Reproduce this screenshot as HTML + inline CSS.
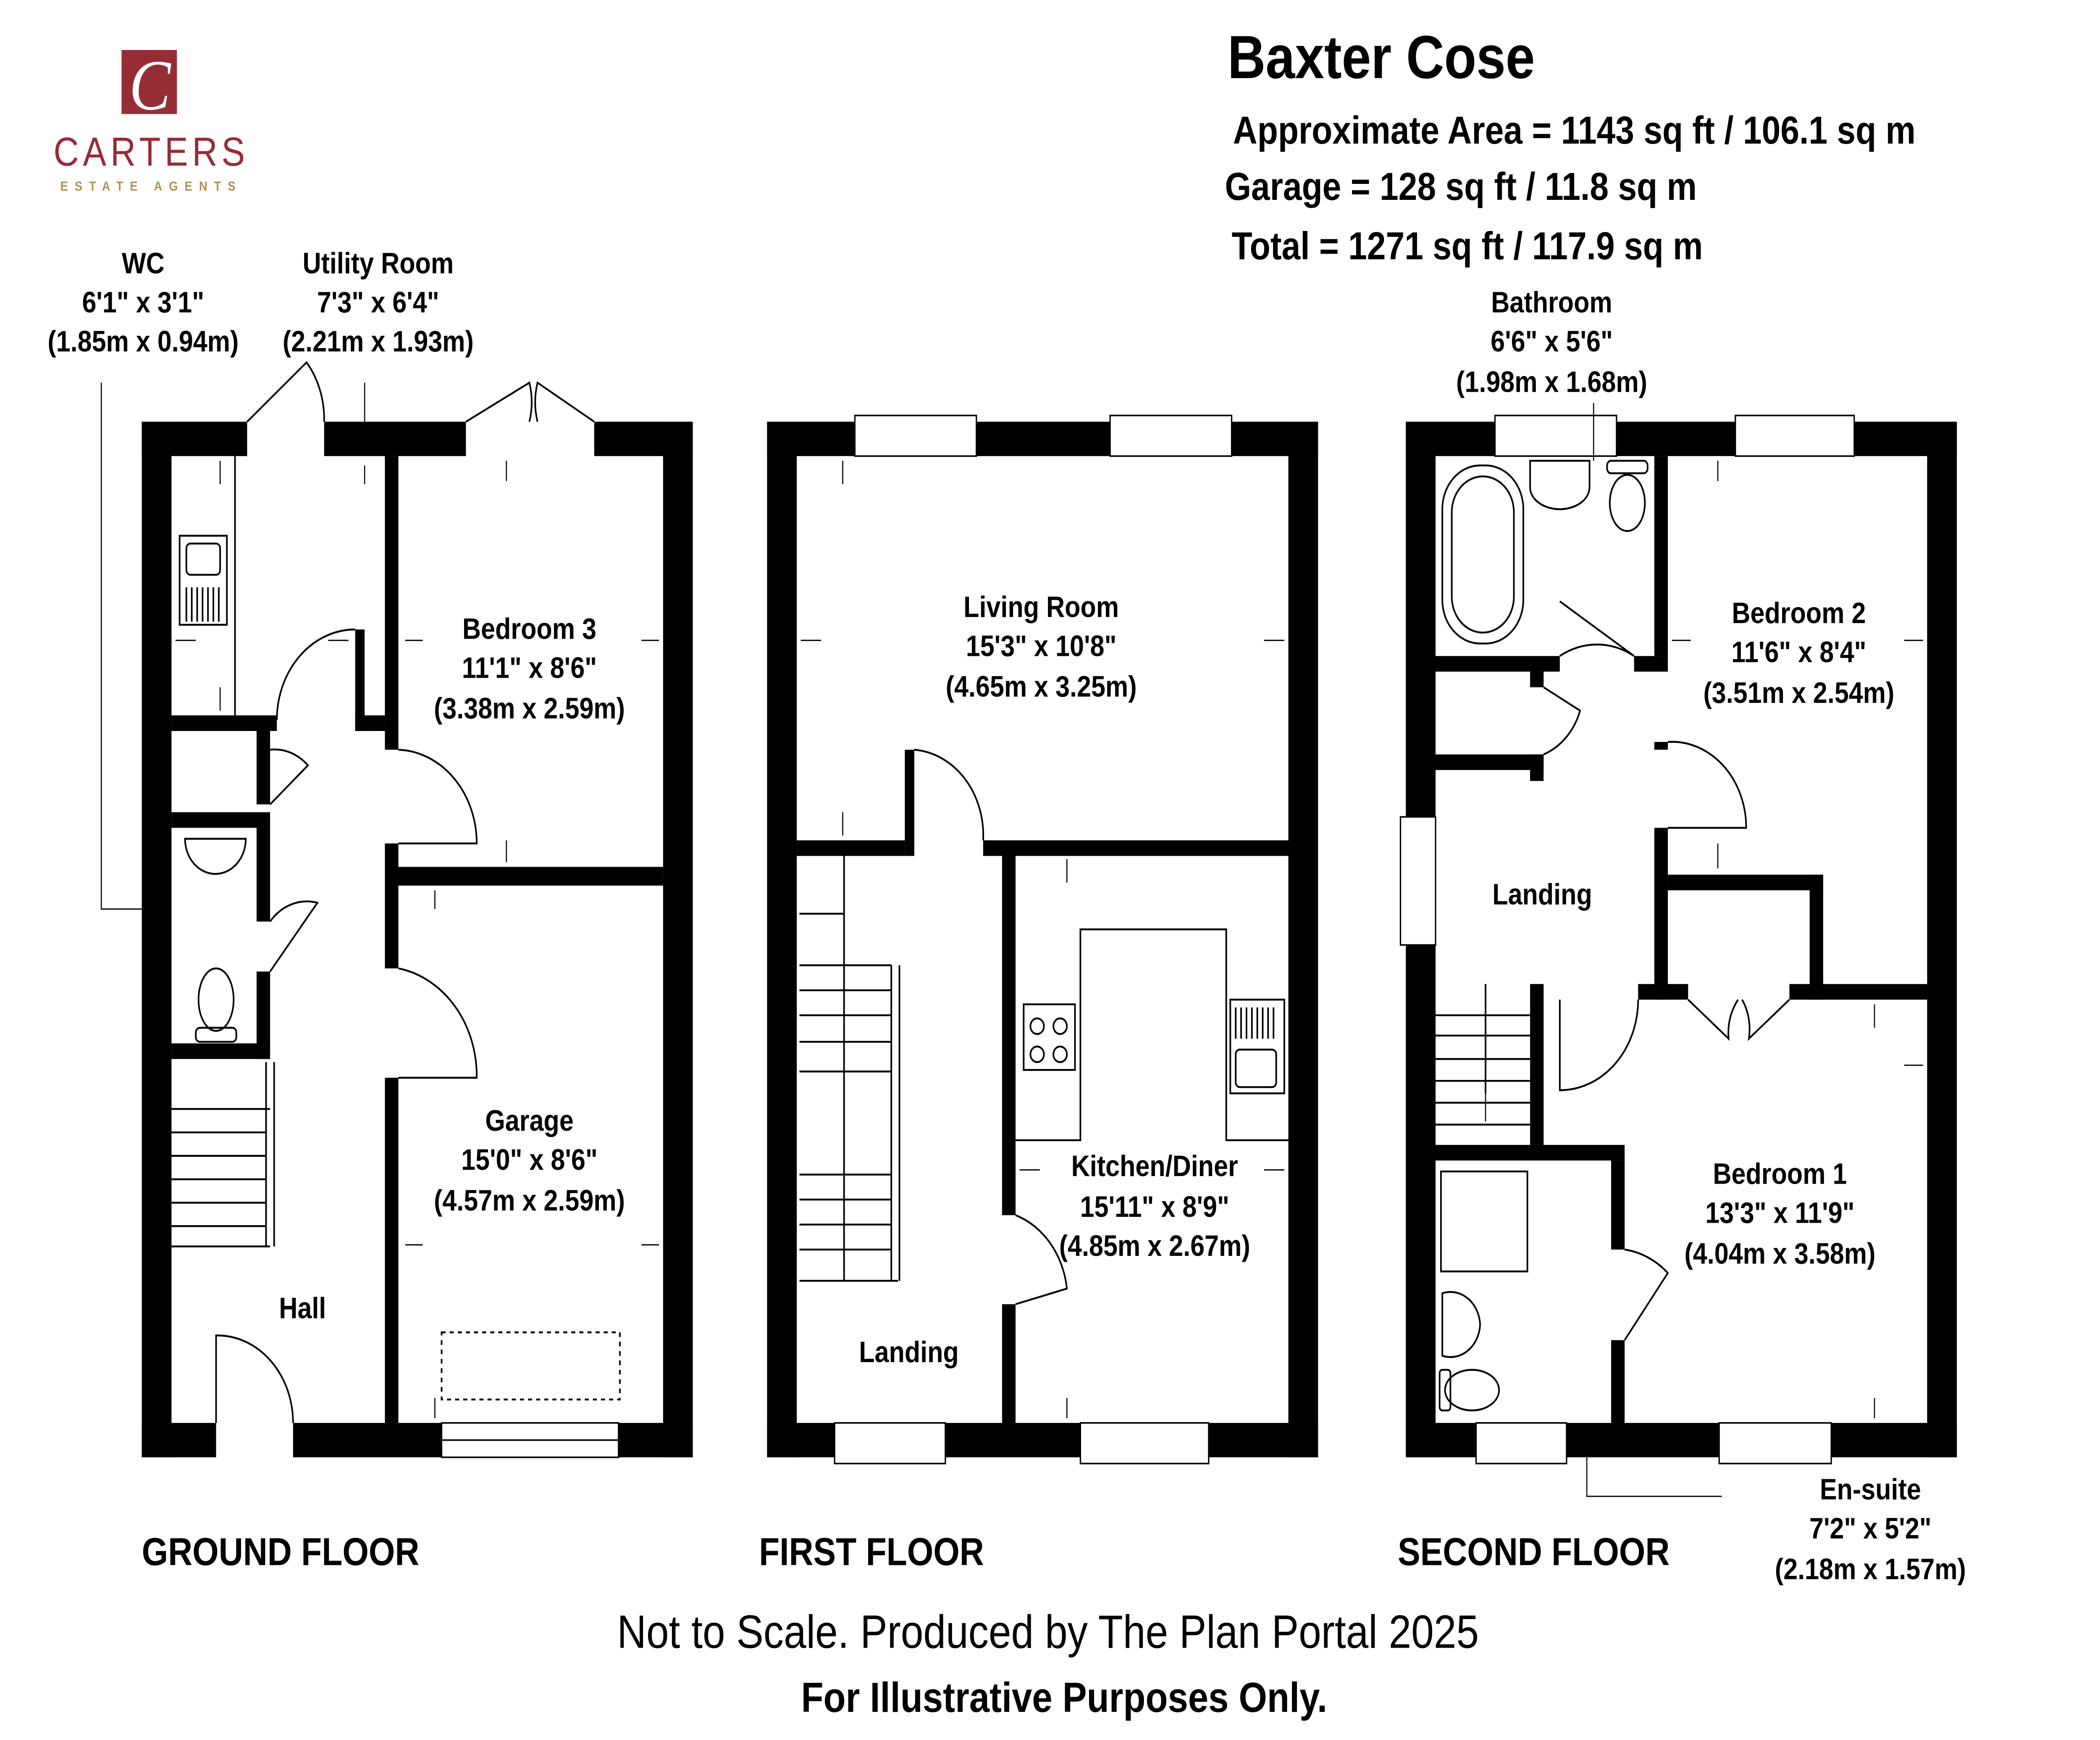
<!DOCTYPE html>
<html><head><meta charset="utf-8"><style>
html,body{margin:0;padding:0;background:#fff;overflow:hidden;width:100%;height:100%;}
svg{display:block;width:100vw;height:100vh;}
text{font-family:"Liberation Sans",Arial,sans-serif;fill:#000;}
.b{font-weight:bold;}
</style></head><body>
<svg viewBox="0 0 1555 1114" preserveAspectRatio="none" xmlns="http://www.w3.org/2000/svg">
<rect width="1555" height="1114" fill="#fff"/>
<rect x="90" y="32" width="41" height="41" fill="#962d35"/>
<text x="111" y="70" font-size="46" text-anchor="middle" style="fill:#fff;font-family:'Liberation Serif',serif;font-style:italic">C</text>
<text x="112" y="106" font-size="26" text-anchor="middle" letter-spacing="3" style="fill:#962d35">CARTERS</text>
<text x="112" y="122" font-size="8.5" text-anchor="middle" letter-spacing="5" class="b" style="fill:#b38f4f">ESTATE AGENTS</text>
<text x="909" y="50" font-size="39" class="b">Baxter Cose</text>
<text x="913" y="92" font-size="25" class="b">Approximate Area = 1143 sq ft / 106.1 sq m</text>
<text x="907" y="128" font-size="25" class="b">Garage = 128 sq ft / 11.8 sq m</text>
<text x="912" y="166" font-size="25" class="b">Total = 1271 sq ft / 117.9 sq m</text>

<g fill="#000">
<rect x="105" y="270" width="78" height="22"/>
<rect x="240" y="270" width="105" height="22"/>
<rect x="440" y="270" width="73" height="22"/>
<rect x="105" y="270" width="22" height="663"/>
<rect x="491" y="270" width="22" height="663"/>
<rect x="105" y="911" width="55" height="22"/>
<rect x="217" y="911" width="110" height="22"/>
<rect x="458" y="911" width="55" height="22"/>
<rect x="285" y="292" width="10" height="188"/>
<rect x="285" y="540" width="10" height="80"/>
<rect x="285" y="690" width="10" height="221"/>
<rect x="295" y="555" width="196" height="12"/>
<rect x="127" y="458" width="78" height="10"/>
<rect x="263" y="403" width="7" height="65"/>
<rect x="263" y="458" width="22" height="10"/>
<rect x="127" y="520" width="73" height="10"/>
<rect x="190" y="468" width="10" height="47"/>
<rect x="190" y="530" width="10" height="60"/>
<rect x="190" y="622" width="10" height="56"/>
<rect x="127" y="668" width="73" height="10"/>
<rect x="568" y="270" width="65" height="22"/>
<rect x="723" y="270" width="99" height="22"/>
<rect x="912" y="270" width="64" height="22"/>
<rect x="568" y="270" width="22" height="663"/>
<rect x="954" y="270" width="22" height="663"/>
<rect x="568" y="911" width="50" height="22"/>
<rect x="700" y="911" width="100" height="22"/>
<rect x="895" y="911" width="81" height="22"/>
<rect x="590" y="538" width="80" height="10"/>
<rect x="670" y="480" width="7" height="68"/>
<rect x="728" y="538" width="226" height="10"/>
<rect x="742" y="548" width="10" height="230"/>
<rect x="742" y="835" width="10" height="76"/>
<rect x="1041" y="270" width="66" height="22"/>
<rect x="1197" y="270" width="88" height="22"/>
<rect x="1373" y="270" width="76" height="22"/>
<rect x="1041" y="270" width="22" height="253"/>
<rect x="1041" y="605" width="22" height="328"/>
<rect x="1427" y="270" width="22" height="663"/>
<rect x="1041" y="911" width="52" height="22"/>
<rect x="1160" y="911" width="113" height="22"/>
<rect x="1356" y="911" width="93" height="22"/>
<rect x="1225" y="292" width="10" height="128"/>
<rect x="1225" y="475" width="10" height="5"/>
<rect x="1225" y="530" width="10" height="110"/>
<rect x="1063" y="420" width="92" height="10"/>
<rect x="1210" y="420" width="25" height="10"/>
<rect x="1133" y="430" width="10" height="10"/>
<rect x="1063" y="483" width="80" height="10"/>
<rect x="1133" y="483" width="10" height="17"/>
<rect x="1235" y="560" width="115" height="10"/>
<rect x="1340" y="560" width="10" height="80"/>
<rect x="1325" y="630" width="102" height="10"/>
<rect x="1213" y="630" width="37" height="10"/>
<rect x="1133" y="630" width="10" height="103"/>
<rect x="1063" y="733" width="140" height="10"/>
<rect x="1193" y="743" width="10" height="57"/>
<rect x="1193" y="858" width="10" height="53"/>
</g>

<g fill="#fff" stroke="#000" stroke-width="1">
<rect x="327" y="911" width="131" height="22"/><line x1="327" y1="922" x2="458" y2="922"/>
<rect x="633" y="266" width="90" height="26"/>
<rect x="822" y="266" width="90" height="26"/>
<rect x="618" y="911" width="82" height="26"/>
<rect x="800" y="911" width="95" height="26"/>
<rect x="1107" y="266" width="90" height="26"/>
<rect x="1285" y="266" width="88" height="26"/>
<rect x="1093" y="911" width="67" height="26"/>
<rect x="1273" y="911" width="83" height="26"/>
<rect x="1037" y="523" width="26" height="82"/>
</g>

<g fill="none" stroke="#000" stroke-width="1.2">
<path d="M183 270 L227 232 A57 57 0 0 1 240 270"/>
<path d="M345 270 L392 245 A47 47 0 0 1 392 270 M440 270 L398 245 A47 47 0 0 0 398 270"/>
<path d="M160 911 L160 855 A56 56 0 0 1 217 911"/>
<path d="M295 480 A60 60 0 0 1 353 540 L295 540"/>
<path d="M295 620 A70 70 0 0 1 353 690 L295 690"/>
<path d="M263 403 A58 58 0 0 0 205 461"/>
<path d="M200 480 A35 35 0 0 1 228 490 L200 515"/>
<path d="M200 590 A35 35 0 0 1 235 578 L200 622"/>
<path d="M677 480 A55 55 0 0 1 728 538"/>
<path d="M752 835 L790 825 A57 57 0 0 0 752 778"/>
<path d="M1155 420 A55 55 0 0 1 1210 420 L1155 385"/>
<path d="M1143 440 L1170 455 A45 45 0 0 1 1143 483"/>
<path d="M1235 475 A55 55 0 0 1 1293 530 L1235 530"/>
<path d="M1250 640 L1280 665 A35 35 0 0 1 1287 640 M1325 640 L1295 665 A35 35 0 0 0 1290 640"/>
<path d="M1155 640 L1155 698 A58 58 0 0 0 1213 640"/>
<path d="M1203 858 L1235 815 A58 58 0 0 0 1203 800"/>
<path d="M127 710 H200 M127 725 H197 M127 740 H197 M127 755 H197 M127 770 H197 M127 785 H197 M127 798 H200 M197 680 V798 M203 680 V798"/>
<path d="M592 585 H625 V548 M625 585 V820 M592 618 H660 M592 634 H660 M592 650 H660 M592 667 H660 M592 686 H660 M592 752 H660 M592 768 H660 M592 784 H660 M592 800 H660 M592 820 H665 M660 618 V820 M666 618 V820"/>
<path d="M1063 650 H1133 M1063 663 H1133 M1063 678 H1133 M1063 692 H1133 M1063 706 H1133 M1063 720 H1133 M1100 630 V700"/>
<path d="M174 292 V458"/>
<rect x="133" y="343" width="35" height="57"/>
<rect x="138" y="348" width="25" height="20" rx="3"/>
<path d="M138 376 V398 M142 376 V398 M146 376 V398 M150 376 V398 M154 376 V398 M158 376 V398 M162 376 V398"/>
<path d="M137 537 H182 A22 22 0 0 1 137 537 Z"/>
<ellipse cx="160" cy="640" rx="13" ry="20"/>
<rect x="145" y="658" width="30" height="9" rx="3"/>
<rect x="327" y="853" width="132" height="43" stroke-dasharray="3 3"/>
<path d="M752 730 H800 V595 H908 V730 H954"/>
<rect x="758" y="643" width="38" height="42"/>
<circle cx="768" cy="657" r="5"/><circle cx="785" cy="657" r="5"/><circle cx="768" cy="675" r="5"/><circle cx="785" cy="675" r="5"/>
<rect x="911" y="640" width="40" height="60"/>
<path d="M915 645 V665 M919 645 V665 M923 645 V665 M927 645 V665 M931 645 V665 M935 645 V665 M939 645 V665 M943 645 V665"/>
<rect x="915" y="672" width="30" height="24" rx="3"/>
<rect x="1068" y="298" width="60" height="114" rx="28"/>
<rect x="1075" y="305" width="46" height="100" rx="23"/>
<path d="M1133 295 H1177 V312 A22 14 0 0 1 1133 312 Z"/>
<rect x="1190" y="295" width="30" height="8" rx="3"/>
<ellipse cx="1205" cy="322" rx="13" ry="18"/>
<rect x="1067" y="750" width="64" height="64"/>
<path d="M1068 828 A22 22 0 0 1 1096 848 A22 22 0 0 1 1068 868 Z"/>
<ellipse cx="1090" cy="890" rx="20" ry="13"/>
<rect x="1066" y="877" width="8" height="26" rx="2"/>
<path d="M75 245 V582 H127" stroke-width="0.8"/>
<path d="M270 245 V275" stroke-width="0.8"/>
<path d="M1180 258 V295" stroke-width="0.8"/>
<path d="M1175 933 V958 H1275" stroke-width="0.8"/>
</g>

<g stroke="#000" stroke-width="0.8" fill="none">
<path d="M163 295 V310 M163 440 V455 M130 410 H145 M258 410 H243 M270 298 V310 M375 295 V308 M375 538 V552 M300 410 H313 M488 410 H475 M322 570 V582 M322 895 V908 M300 797 H313 M488 797 H475 M624 295 V310 M624 520 V535 M593 410 H608 M951 410 H936 M790 550 V565 M790 895 V908 M755 749 H770 M951 749 H936 M1272 295 V308 M1272 540 V556 M1238 410 H1252 M1424 410 H1410 M1388 643 V658 M1388 895 V908 M1410 682 H1424 M1100 700 V718"/>
</g>

<g class="b" font-size="19" text-anchor="middle">
<text x="106" y="175">WC</text><text x="106" y="200">6'1" x 3'1"</text><text x="106" y="225">(1.85m x 0.94m)</text>
<text x="280" y="175">Utility Room</text><text x="280" y="200">7'3" x 6'4"</text><text x="280" y="225">(2.21m x 1.93m)</text>
<text x="392" y="409">Bedroom 3</text><text x="392" y="434">11'1" x 8'6"</text><text x="392" y="460">(3.38m x 2.59m)</text>
<text x="392" y="724">Garage</text><text x="392" y="749">15'0" x 8'6"</text><text x="392" y="775">(4.57m x 2.59m)</text>
<text x="224" y="844">Hall</text>
<text x="771" y="395">Living Room</text><text x="771" y="420">15'3" x 10'8"</text><text x="771" y="446">(4.65m x 3.25m)</text>
<text x="855" y="753">Kitchen/Diner</text><text x="855" y="779">15'11" x 8'9"</text><text x="855" y="804">(4.85m x 2.67m)</text>
<text x="673" y="872">Landing</text>
<text x="1149" y="200">Bathroom</text><text x="1149" y="225">6'6" x 5'6"</text><text x="1149" y="251">(1.98m x 1.68m)</text>
<text x="1332" y="399">Bedroom 2</text><text x="1332" y="424">11'6" x 8'4"</text><text x="1332" y="450">(3.51m x 2.54m)</text>
<text x="1142" y="579">Landing</text>
<text x="1318" y="758">Bedroom 1</text><text x="1318" y="783">13'3" x 11'9"</text><text x="1318" y="809">(4.04m x 3.58m)</text>
<text x="1385" y="960">En-suite</text><text x="1385" y="985">7'2" x 5'2"</text><text x="1385" y="1011">(2.18m x 1.57m)</text>
</g>
<g class="b" font-size="25">
<text x="105" y="1002">GROUND FLOOR</text>
<text x="562" y="1002">FIRST FLOOR</text>
<text x="1035" y="1002">SECOND FLOOR</text>
</g>
<text x="776" y="1055" font-size="30" text-anchor="middle">Not to Scale. Produced by The Plan Portal 2025</text>
<text x="788" y="1096" font-size="27" text-anchor="middle" class="b">For Illustrative Purposes Only.</text>
</svg>
</body></html>
